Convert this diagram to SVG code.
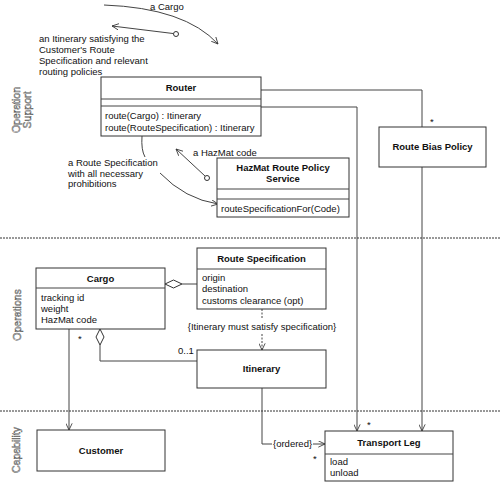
<svg xmlns="http://www.w3.org/2000/svg" width="500" height="484" viewBox="0 0 500 484">
<style>
text{font-family:"Liberation Sans",Arial,sans-serif;font-size:9.5px;fill:#111}
.b{font-weight:bold;text-anchor:middle}
.m{text-anchor:middle}
.box{fill:#fff;stroke:#333;stroke-width:1}
.ln{fill:none;stroke:#444;stroke-width:1}
.sep{fill:none;stroke:#333;stroke-width:1;stroke-dasharray:2 1}
.side{font-size:10.5px;fill:#fff;stroke:#555;stroke-width:0.5;text-anchor:middle}
</style>
<defs>
<marker id="a" viewBox="0 0 10 10" refX="9.5" refY="5" markerWidth="7" markerHeight="7" orient="auto" markerUnits="userSpaceOnUse">
<path d="M0,0.5 L9.5,5 L0,9.5" fill="none" stroke="#333" stroke-width="1.2"/>
</marker>
</defs>

<!-- layer separators and labels -->
<g id="layers">
<line class="sep" x1="0" y1="238" x2="500" y2="238"/>
<line class="sep" x1="0" y1="411" x2="500" y2="411"/>
<text class="side" transform="translate(20,110) rotate(-90)">Operation</text>
<text class="side" transform="translate(31,110) rotate(-90)">Support</text>
<text class="side" transform="translate(21,315) rotate(-90)">Operations</text>
<text class="side" transform="translate(20,450) rotate(-90)">Capability</text>
</g>

<!-- connectors -->
<g id="connectors">
<!-- a Cargo flow -->
<path class="ln" d="M104,5 Q185,8 218,44" marker-end="url(#a)"/>
<text x="150" y="10">a Cargo</text>
<!-- itinerary return -->
<line class="ln" x1="173" y1="33.5" x2="112" y2="26" marker-end="url(#a)"/>
<circle cx="176" cy="34" r="2.5" fill="#fff" stroke="#333"/>
<text x="39" y="42">an Itinerary satisfying the</text>
<text x="39" y="53">Customer's Route</text>
<text x="39" y="64">Specification and relevant</text>
<text x="39" y="75">routing policies</text>
<!-- route spec flow -->
<path class="ln" d="M142,136 Q141,150 145,157"/>
<path class="ln" d="M160,173 Q185,199 218,204" marker-end="url(#a)"/>
<text x="68" y="166">a Route Specification</text>
<text x="68" y="177">with all necessary</text>
<text x="68" y="187">prohibitions</text>
<!-- hazmat code -->
<line class="ln" x1="205" y1="176" x2="176" y2="149" marker-end="url(#a)"/>
<circle cx="207" cy="178" r="2.5" fill="#fff" stroke="#333"/>
<text x="193" y="156">a HazMat code</text>
<!-- router to route bias policy -->
<polyline class="ln" points="261,90 422,90 422,127"/>
<text x="430" y="125">*</text>
<!-- router to transport leg -->
<polyline class="ln" points="261,107 357,107 357,431" marker-end="url(#a)"/>
<!-- route bias to transport leg -->
<line class="ln" x1="422" y1="167" x2="422" y2="431" marker-end="url(#a)"/>
<text x="367" y="428">*</text>
<!-- cargo - route spec aggregation -->
<line class="ln" x1="182" y1="284" x2="197" y2="284"/>
<path d="M165,284 L173.5,280 L182,284 L173.5,288 Z" fill="#fff" stroke="#333"/>
<!-- cargo - itinerary aggregation -->
<polyline class="ln" points="100,345 100,361 197,361"/>
<path d="M100,329 L104,337 L100,345 L96,337 Z" fill="#fff" stroke="#333"/>
<text x="178" y="354">0..1</text>
<text x="78" y="342">*</text>
<!-- cargo to customer -->
<line class="ln" x1="69" y1="329" x2="69" y2="430" marker-end="url(#a)"/>
<!-- route spec to itinerary constraint -->
<line class="ln" x1="262" y1="309" x2="262" y2="319" stroke-dasharray="2 1.5"/>
<line class="ln" x1="262" y1="334" x2="262" y2="350" stroke-dasharray="2 1.5" marker-end="url(#a)"/>
<text class="m" x="262" y="330">{Itinerary must satisfy specification}</text>
<!-- itinerary to transport leg -->
<polyline class="ln" points="262,388 262,444 272,444"/>
<text x="273" y="447">{ordered}</text>
<line class="ln" x1="313" y1="444" x2="325" y2="444" marker-end="url(#a)"/>
<text x="313" y="462">*</text>
</g>

<g id="router">
<rect class="box" x="101" y="77" width="160" height="59"/>
<line class="ln" x1="101" y1="99" x2="261" y2="99"/>
<line class="ln" x1="101" y1="106" x2="261" y2="106"/>
<text class="b" x="181" y="91">Router</text>
<text x="105" y="119">route(Cargo) : Itinerary</text>
<text x="105" y="131">route(RouteSpecification) : Itinerary</text>
</g>

<g id="route-bias-policy">
<rect class="box" x="379" y="127" width="107" height="40"/>
<text class="b" x="432.5" y="150">Route Bias Policy</text>
</g>

<g id="hazmat-service">
<rect class="box" x="217" y="158" width="132" height="59"/>
<line class="ln" x1="217" y1="189" x2="349" y2="189"/>
<line class="ln" x1="217" y1="199" x2="349" y2="199"/>
<text class="b" x="283" y="171">HazMat Route Policy</text>
<text class="b" x="283" y="182">Service</text>
<text x="221" y="212">routeSpecificationFor(Code)</text>
</g>

<g id="cargo">
<rect class="box" x="36" y="268" width="129" height="61"/>
<line class="ln" x1="36" y1="288" x2="165" y2="288"/>
<text class="b" x="100.5" y="282">Cargo</text>
<text x="41" y="301">tracking id</text>
<text x="41" y="312">weight</text>
<text x="41" y="323">HazMat code</text>
</g>

<g id="route-specification">
<rect class="box" x="197" y="248" width="129" height="61"/>
<line class="ln" x1="197" y1="269" x2="326" y2="269"/>
<text class="b" x="261.5" y="262">Route Specification</text>
<text x="202" y="281">origin</text>
<text x="202" y="292">destination</text>
<text x="202" y="304">customs clearance (opt)</text>
</g>

<g id="itinerary">
<rect class="box" x="197" y="350" width="129" height="38"/>
<text class="b" x="261.5" y="372">Itinerary</text>
</g>

<g id="customer">
<rect class="box" x="37" y="430" width="128" height="41"/>
<text class="b" x="101" y="454">Customer</text>
</g>

<g id="transport-leg">
<rect class="box" x="325" y="431" width="128" height="50"/>
<line class="ln" x1="325" y1="454" x2="453" y2="454"/>
<text class="b" x="389" y="446">Transport Leg</text>
<text x="330" y="465">load</text>
<text x="330" y="476">unload</text>
</g>
</svg>
